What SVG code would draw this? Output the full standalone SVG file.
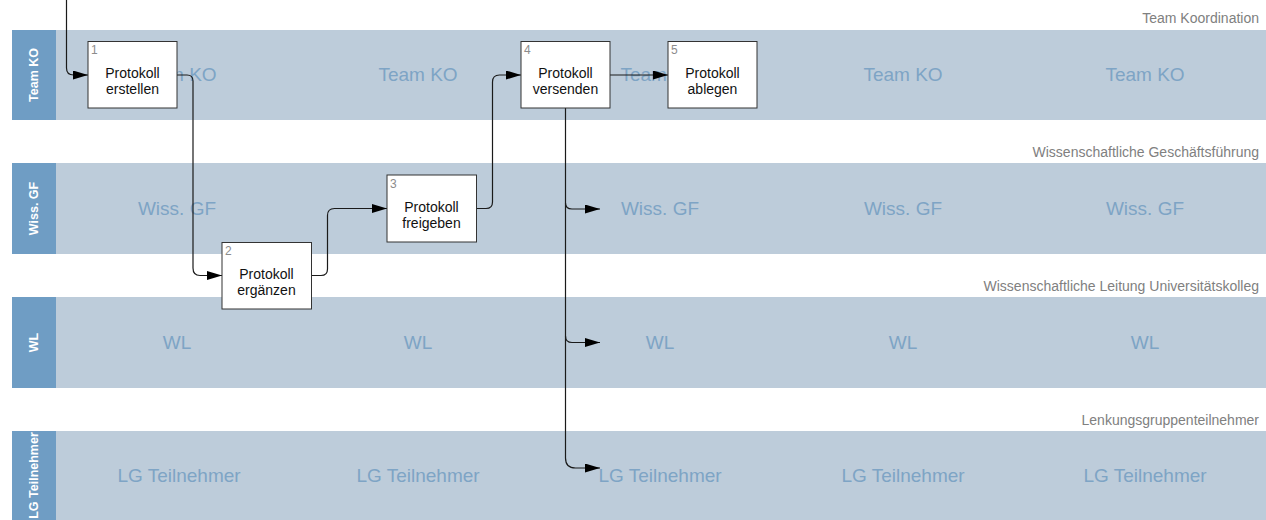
<svg xmlns="http://www.w3.org/2000/svg" width="1266" height="520" viewBox="0 0 1266 520">
<style>
.lane{fill:#bdccda}
.hdr{fill:#6f9dc4}
.hdrt{font-family:"Liberation Sans",Arial,sans-serif;font-size:12.5px;font-weight:bold;fill:#ffffff;text-anchor:middle}
.cap{font-family:"Liberation Sans",Arial,sans-serif;font-size:14px;fill:#808080;text-anchor:end}
.wm{font-family:"Liberation Sans",Arial,sans-serif;font-size:19px;fill:#7ea4c5;text-anchor:middle}
.box{fill:#ffffff;stroke:#333333;stroke-width:1}
.num{font-family:"Liberation Sans",Arial,sans-serif;font-size:12px;fill:#8c8c8c}
.lbl{font-family:"Liberation Sans",Arial,sans-serif;font-size:14px;fill:#111111;text-anchor:middle}
.con{fill:none;stroke:#1a1a1a;stroke-width:1.2}
</style>
<defs>
<marker id="ah" markerWidth="15" markerHeight="9" refX="15" refY="4.5" orient="auto" markerUnits="userSpaceOnUse">
<path d="M0,0 L15,4.5 L0,9 Z" fill="#000000"/>
</marker>
</defs>
<rect width="1266" height="520" fill="#ffffff"/>
<g id="lanes">
<text class="cap" x="1259" y="23">Team Koordination</text>
<rect class="lane" x="56" y="30" width="1210" height="90"/>
<rect class="hdr" x="12" y="30" width="44" height="90"/>
<text class="hdrt" transform="translate(38,75) rotate(-90)">Team KO</text>
<text class="wm" x="177" y="81">Team KO</text>
<text class="wm" x="418" y="81">Team KO</text>
<text class="wm" x="660" y="81">Team KO</text>
<text class="wm" x="903" y="81">Team KO</text>
<text class="wm" x="1145" y="81">Team KO</text>

<text class="cap" x="1259" y="157">Wissenschaftliche Geschäftsführung</text>
<rect class="lane" x="56" y="163" width="1210" height="91"/>
<rect class="hdr" x="12" y="163" width="44" height="91"/>
<text class="hdrt" transform="translate(38,208.5) rotate(-90)">Wiss. GF</text>
<text class="wm" x="177" y="215">Wiss. GF</text>
<text class="wm" x="660" y="215">Wiss. GF</text>
<text class="wm" x="903" y="215">Wiss. GF</text>
<text class="wm" x="1145" y="215">Wiss. GF</text>

<text class="cap" x="1259" y="291">Wissenschaftliche Leitung Universitätskolleg</text>
<rect class="lane" x="56" y="297" width="1210" height="91"/>
<rect class="hdr" x="12" y="297" width="44" height="91"/>
<text class="hdrt" transform="translate(38,342.5) rotate(-90)">WL</text>
<text class="wm" x="177" y="349">WL</text>
<text class="wm" x="418" y="349">WL</text>
<text class="wm" x="660" y="349">WL</text>
<text class="wm" x="903" y="349">WL</text>
<text class="wm" x="1145" y="349">WL</text>

<text class="cap" x="1259" y="425">Lenkungsgruppenteilnehmer</text>
<rect class="lane" x="56" y="431" width="1210" height="89"/>
<rect class="hdr" x="12" y="431" width="44" height="89"/>
<text class="hdrt" transform="translate(38,475.5) rotate(-90)">LG Teilnehmer</text>
<text class="wm" x="179" y="482">LG Teilnehmer</text>
<text class="wm" x="418" y="482">LG Teilnehmer</text>
<text class="wm" x="660" y="482">LG Teilnehmer</text>
<text class="wm" x="903" y="482">LG Teilnehmer</text>
<text class="wm" x="1145" y="482">LG Teilnehmer</text>
</g>
<g id="connectors">
<path class="con" d="M66.5,0 V68 Q66.5,75 73.5,75 H88" marker-end="url(#ah)"/>
<path class="con" d="M177,75 H187 Q193,75 193,81 V268 Q193,275.5 200,275.5 H222" marker-end="url(#ah)"/>
<path class="con" d="M311.5,275.5 H321 Q327.5,275.5 327.5,269 V215.5 Q327.5,208.5 334.5,208.5 H387" marker-end="url(#ah)"/>
<path class="con" d="M476.5,208.5 H486 Q492.5,208.5 492.5,202 V82 Q492.5,75 499.5,75 H521" marker-end="url(#ah)"/>
<path class="con" d="M610,75 H668" marker-end="url(#ah)"/>
<path class="con" d="M565.5,108 V458 Q565.5,468 575.5,468 H600" marker-end="url(#ah)"/>
<path class="con" d="M565.5,203 Q565.5,209 572,209 H600" marker-end="url(#ah)"/>
<path class="con" d="M565.5,336 Q565.5,342.5 572,342.5 H600" marker-end="url(#ah)"/>
</g>
<g id="node1">
<rect class="box" x="88" y="41.5" width="89" height="66.5"/>
<text class="num" x="91" y="54">1</text>
<text class="lbl" x="132.5" y="78">Protokoll</text>
<text class="lbl" x="132.5" y="94">erstellen</text>
</g>
<g id="node2">
<rect class="box" x="222" y="242.5" width="89.5" height="66.5"/>
<text class="num" x="225" y="255">2</text>
<text class="lbl" x="266.5" y="279">Protokoll</text>
<text class="lbl" x="266.5" y="295">ergänzen</text>
</g>
<g id="node3">
<rect class="box" x="387" y="175" width="89.5" height="67"/>
<text class="num" x="390" y="188">3</text>
<text class="lbl" x="431.5" y="211.5">Protokoll</text>
<text class="lbl" x="431.5" y="227.5">freigeben</text>
</g>
<g id="node4">
<rect class="box" x="521" y="41.5" width="89" height="66.5"/>
<text class="num" x="524" y="54">4</text>
<text class="lbl" x="565.5" y="78">Protokoll</text>
<text class="lbl" x="565.5" y="94">versenden</text>
</g>
<g id="node5">
<rect class="box" x="668" y="41.5" width="89" height="66.5"/>
<text class="num" x="671" y="54">5</text>
<text class="lbl" x="712.5" y="78">Protokoll</text>
<text class="lbl" x="712.5" y="94">ablegen</text>
</g>
</svg>
